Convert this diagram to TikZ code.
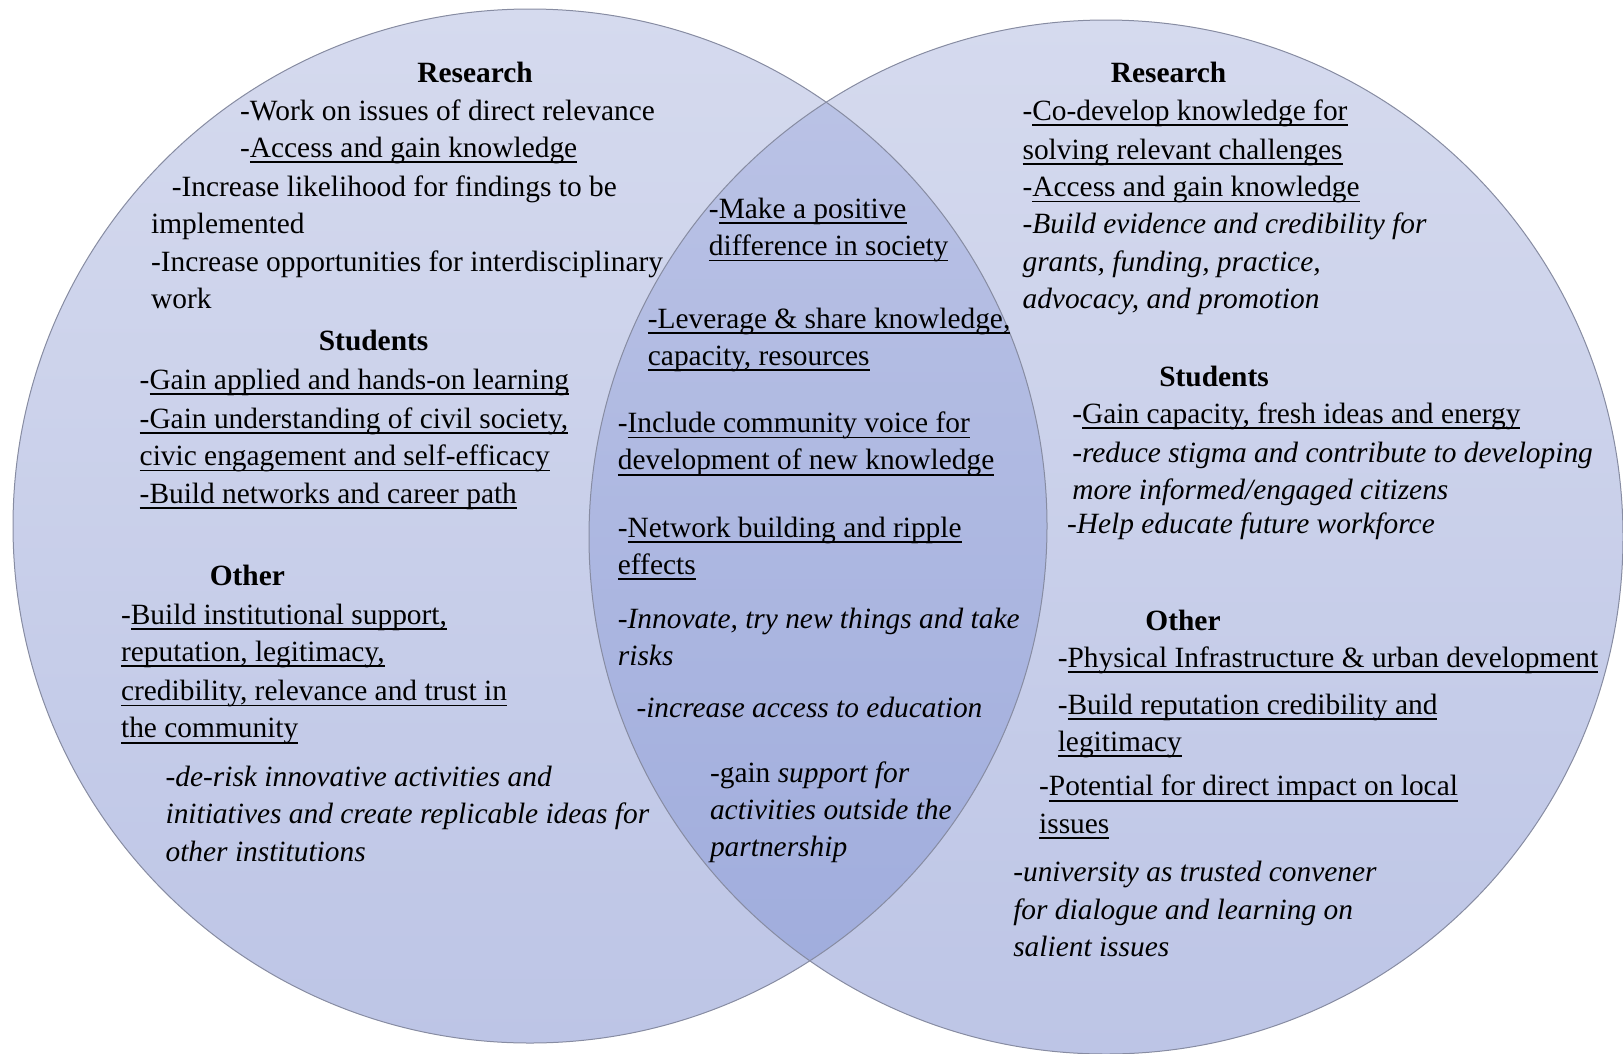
\documentclass[tikz,border=0pt]{standalone}
\usepackage{fontspec}
\setmainfont{Liberation Serif}
\newsavebox{\ulinebox}
\newcommand{\myul}[1]{\sbox{\ulinebox}{#1}\rlap{\rule[-5.6pt]{\wd\ulinebox}{1.7pt}}\usebox{\ulinebox}}
\definecolor{circtop}{RGB}{213,218,238}
\definecolor{circbot}{RGB}{189,197,230}
\definecolor{lenstop}{RGB}{188,196,230}
\definecolor{lensbot}{RGB}{158,171,220}
\definecolor{edge}{RGB}{135,140,162}
\tikzset{
  ln/.style={anchor=base west, inner sep=0pt, outer sep=0pt, font=\fontsize{29.4}{37.3}\selectfont},
  itl/.style={ln, font=\fontsize{29.4}{37.3}\selectfont\itshape},
  hd/.style={anchor=base, inner sep=0pt, outer sep=0pt, font=\fontsize{29.4}{37.3}\selectfont\bfseries},
  circ/.style={top color=circtop, bottom color=circbot},
  lens/.style={top color=lenstop, bottom color=lensbot},
  rim/.style={draw=edge, line width=1pt}
}
\begin{document}
\begin{tikzpicture}[x=1pt,y=-1pt]
\useasboundingbox (0,0) rectangle (1623,1053);
% circles
\shade[circ] (530,526) circle (517);
\shade[circ] (1106,537) circle (517);
\begin{scope}
  \clip (530,526) circle (517);
  \shade[lens] (1106,537) circle (517);
\end{scope}
\draw[rim] (530,526) circle (517);
\draw[rim] (1106,537) circle (517);
\begin{scope}[x=1.035pt,y=-1.035pt]
% left circle
\node[hd] (lh1) at (459,80) {Research};
\node[ln] (l1) at (232,116) {-Work on issues of direct relevance};
\node[ln] (l2) at (232,152) {-\myul{Access and gain knowledge}};
\node[ln] (l3) at (166,190) {-Increase likelihood for findings to be};
\node[ln] (l4) at (146,226) {implemented};
\node[ln] (l5) at (146,262) {-Increase opportunities for interdisciplinary};
\node[ln] (l6) at (146,298) {work};
\node[hd] (lh2) at (361,339) {Students};
\node[ln] (l7) at (135,376) {-\myul{Gain applied and hands-on learning}};
\node[ln] (l8) at (135,414) {\myul{-Gain understanding of civil society,}};
\node[ln] (l9) at (135,450) {\myul{civic engagement and self-efficacy}};
\node[ln] (l10) at (135,486) {\myul{-Build networks and career path}};
\node[hd] (lh3) at (239,566) {Other};
\node[ln] (l11) at (117,603) {-\myul{Build institutional support,}};
\node[ln] (l12) at (117,639) {\myul{reputation, legitimacy,}};
\node[ln] (l13) at (117,677) {\myul{credibility, relevance and trust in}};
\node[ln] (l14) at (117,713) {\myul{the community}};
\node[itl] (l15) at (160,760) {-de-risk innovative activities and};
\node[itl] (l16) at (160,796) {initiatives and create replicable ideas for};
\node[itl] (l17) at (160,832) {other institutions};
% centre
\node[ln] (c1) at (685,211) {-\myul{Make a positive}};
\node[ln] (c2) at (685,247) {\myul{difference in society}};
\node[ln] (c3) at (626,317) {\myul{-Leverage \& share knowledge,}};
\node[ln] (c4) at (626,353) {\myul{capacity, resources}};
\node[ln] (c5) at (597,418) {-\myul{Include community voice for}};
\node[ln] (c6) at (597,454) {\myul{development of new knowledge}};
\node[ln] (c7) at (597,519) {-\myul{Network building and ripple}};
\node[ln] (c8) at (597,555) {\myul{effects}};
\node[itl] (c9) at (597,607) {-Innovate, try new things and take};
\node[itl] (c10) at (597,643) {risks};
\node[itl] (c11) at (615,693) {-increase access to education};
\node[ln] (c12) at (686,756) {-gain \textit{support for}};
\node[itl] (c13) at (686,792) {activities outside the};
\node[itl] (c14) at (686,828) {partnership};
% right circle
\node[hd] (rh1) at (1129,80) {Research};
\node[ln] (r1) at (988,116) {-\myul{Co-develop knowledge for}};
\node[ln] (r2) at (988,154) {\myul{solving relevant challenges}};
\node[ln] (r3) at (988,190) {-\myul{Access and gain knowledge}};
\node[itl] (r4) at (988,226) {-Build evidence and credibility for};
\node[itl] (r5) at (988,262) {grants, funding, practice,};
\node[itl] (r6) at (988,298) {advocacy, and promotion};
\node[hd] (rh2) at (1173,373) {Students};
\node[ln] (r7) at (1036,409) {-\myul{Gain capacity, fresh ideas and energy}};
\node[itl] (r8) at (1036,447) {-reduce stigma and contribute to developing};
\node[itl] (r9) at (1036,483) {more informed/engaged citizens};
\node[itl] (r10) at (1031,515) {-Help educate future workforce};
\node[hd] (rh3) at (1143,609) {Other};
\node[ln] (r11) at (1022,645) {-\myul{Physical Infrastructure \& urban development}};
\node[ln] (r12) at (1022,690) {-\myul{Build reputation credibility and}};
\node[ln] (r13) at (1022,726) {\myul{legitimacy}};
\node[ln] (r14) at (1004,769) {-\myul{Potential for direct impact on local}};
\node[ln] (r15) at (1004,805) {\myul{issues}};
\node[itl] (r16) at (979,852) {-university as trusted convener};
\node[itl] (r17) at (979,888) {for dialogue and learning on};
\node[itl] (r18) at (979,924) {salient issues};
\end{scope}
\end{tikzpicture}
\end{document}
